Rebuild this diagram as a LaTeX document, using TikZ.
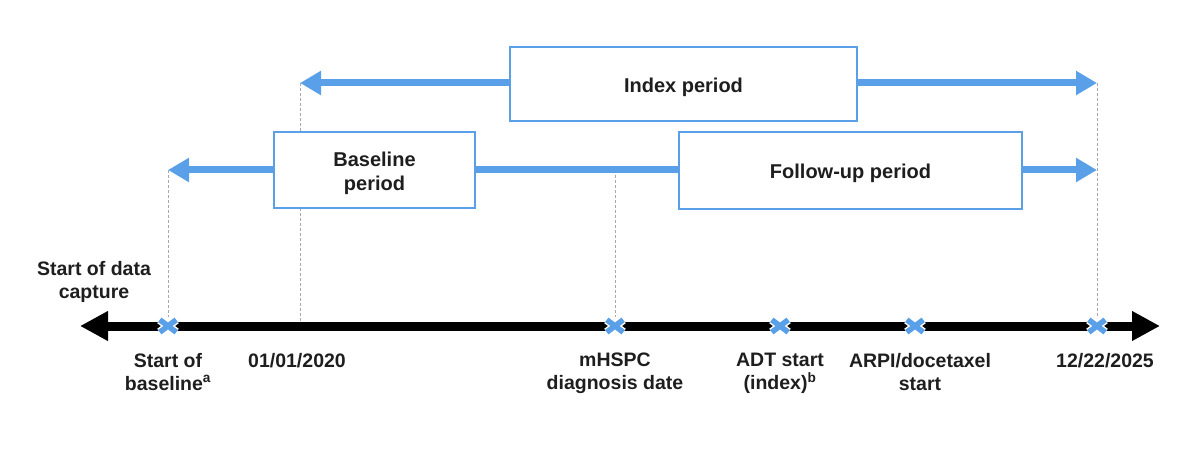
\documentclass[tikz,border=0pt]{standalone}
\usepackage{fontspec}
\setmainfont{Liberation Sans}
\usetikzlibrary{arrows.meta}
\definecolor{pblue}{HTML}{5AA0E8}
\definecolor{dgray}{HTML}{A8A8A8}
\definecolor{txt}{HTML}{1E1E1E}
\tikzset{
  period/.style={draw=pblue, line width=2pt, fill=white, inner sep=0pt},
  boxtxt/.style={inner sep=0pt, align=center, text=txt,
    font=\fontsize{20}{24}\selectfont\bfseries},
  barrow/.style={draw=pblue, line width=7pt, -{Triangle[length=21pt,width=23pt]}},
  bline/.style={draw=pblue, line width=7pt},
  guide/.style={draw=dgray, line width=1pt, dash pattern=on 3pt off 2pt},
  tline/.style={draw=black, line width=9pt, {Triangle[length=28pt,width=28pt]}-{Triangle[length=28pt,width=28pt]}},
  xmark/.style={inner sep=0pt, minimum width=16pt, minimum height=12pt},
  xgap/.style={draw=white, line width=8.5pt},
  xline/.style={draw=pblue, line width=5.5pt},
  lbl/.style={anchor=north, inner sep=0pt, align=center, text=txt,
    font=\fontsize{19.5}{23}\selectfont\bfseries},
}
\begin{document}
\begin{tikzpicture}[x=1pt, y=-1pt]
\useasboundingbox (0,0) rectangle (1200,449);
% coordinates
\coordinate (tlL) at (80,326);
\coordinate (tlR) at (1160,326);
\coordinate (d2020) at (300,326);
\coordinate (iL) at (300,83);
\coordinate (iR) at (1097,83);
\coordinate (bL) at (168,170);
\coordinate (fR) at (1097,170);
\coordinate (mT) at (615,170);
% timeline
\draw[tline] (tlL) -- (tlR);
% crosses
\node[xmark] (x1) at (168,326) {};
\node[xmark] (x2) at (615,326) {};
\node[xmark] (x3) at (780,326) {};
\node[xmark] (x4) at (915,326) {};
\node[xmark] (x5) at (1097,326) {};
\foreach \n in {x1,x2,x3,x4,x5}{
  \draw[xgap] (\n.south west) -- (\n.north east) (\n.north west) -- (\n.south east);
  \draw[xline] (\n.south west) -- (\n.north east) (\n.north west) -- (\n.south east);
}
% guides
\draw[guide] (bL) -- ([yshift=9pt]x1.center);
\draw[guide] (iL) -- ([yshift=4.5pt]d2020);
\draw[guide] (mT) -- ([yshift=9pt]x2.center);
\draw[guide] (iR) -- ([yshift=9pt]x5.center);
% boxes
\node[period, minimum width=347pt, minimum height=74pt] (idx) at (683.5,84) {};
\node[period, minimum width=201pt, minimum height=76pt] (base) at (374.5,170) {};
\node[period, minimum width=343pt, minimum height=77pt] (fu) at (850.5,170.5) {};
\node[boxtxt] (idxt) at ([yshift=-3pt]idx.center) {Index period};
\node[boxtxt] (baset) at ([yshift=-3pt]base.center) {Baseline\\period};
\node[boxtxt] (fut) at ([yshift=-3pt]fu.center) {Follow-up period};
% blue arrows
\draw[barrow] (idx.west |- iL) -- (iL);
\draw[barrow] (idx.east |- iR) -- (iR);
\draw[barrow] (base.west |- bL) -- (bL);
\draw[bline] (base.east |- bL) -- (fu.west |- bL);
\draw[barrow] (fu.east |- fR) -- (fR);
% labels
\node[lbl] (l0) at (94,261) {Start of data\\capture};
\node[lbl] (l1) at (168,353) {Start of\\baseline\textsuperscript{a}};
\node[lbl] (l2) at (297,353) {01/01/2020};
\node[lbl] (l3) at (615,353) {mHSPC\\diagnosis date};
\node[lbl] (l4) at (780,353) {ADT start\\(index)\textsuperscript{b}};
\node[lbl] (l5) at (920,353) {ARPI/docetaxel\\start};
\node[lbl] (l6) at (1105,353) {12/22/2025};
\end{tikzpicture}
\end{document}
